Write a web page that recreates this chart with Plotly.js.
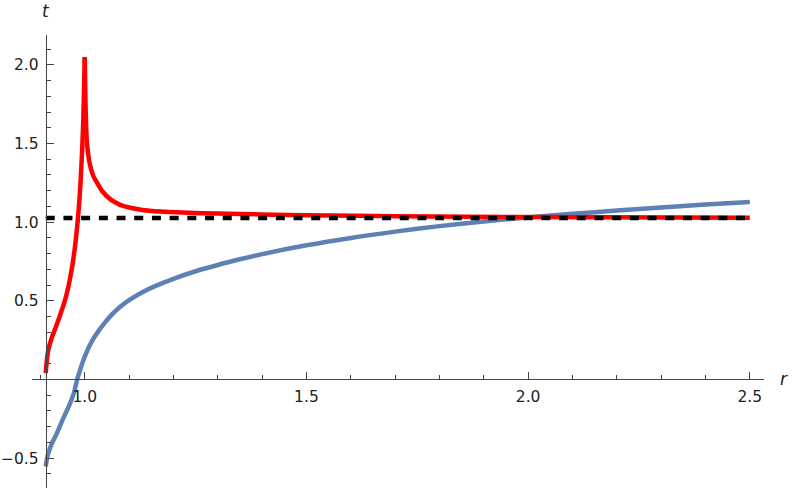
<!DOCTYPE html>
<html>
<head>
<meta charset="utf-8">
<script src="https://cdn.plot.ly/plotly-3.0.1.min.js"></script>
<style>html,body{margin:0;padding:0;background:#fff;}#chart{width:793px;height:491px;}</style>
</head>
<body>
<div id="chart"></div>
<script>
// ---- data ----
// red curve, branch below the spike at r = 1
const redLeftR = [0.912, 0.914, 0.918, 0.925, 0.935, 0.945, 0.955, 0.963, 0.970, 0.976, 0.981, 0.986, 0.990, 0.994, 0.997, 1.000];
const redLeftT = [0.04, 0.11, 0.19, 0.26, 0.335, 0.415, 0.50, 0.59, 0.69, 0.80, 0.92, 1.07, 1.23, 1.45, 1.68, 2.05];
// red curve, branch after the spike
const redRightR = [1.000, 1.002, 1.005, 1.010, 1.015, 1.020, 1.028, 1.040, 1.058, 1.080, 1.100, 1.130, 1.170, 1.220, 1.300, 1.400, 1.500, 1.700, 2.000, 2.500];
const redRightT = [2.05, 1.72, 1.50, 1.39, 1.33, 1.29, 1.25, 1.195, 1.145, 1.11, 1.093, 1.078, 1.068, 1.061, 1.055, 1.049, 1.044, 1.038, 1.033, 1.028];

const blueR = [0.912, 0.915, 0.920, 0.927, 0.935, 0.945, 0.955, 0.965, 0.975, 0.983, 0.990, 1.000, 1.010, 1.020, 1.032, 1.045, 1.062, 1.080, 1.100, 1.130, 1.160, 1.200, 1.250, 1.300, 1.350, 1.400, 1.500, 1.600, 1.700, 1.800, 1.900, 2.000, 2.100, 2.200, 2.300, 2.400, 2.500];
const blueT = [-0.553, -0.50, -0.45, -0.40, -0.355, -0.29, -0.225, -0.165, -0.09, 0.00, 0.065, 0.145, 0.210, 0.262, 0.312, 0.360, 0.415, 0.462, 0.505, 0.555, 0.595, 0.640, 0.688, 0.728, 0.764, 0.797, 0.853, 0.900, 0.940, 0.975, 1.005, 1.030, 1.053, 1.074, 1.094, 1.112, 1.128];

const refR = [0.912, 2.5];
const refT = [1.027, 1.027];

const xTickVals = [1.0, 1.5, 2.0, 2.5];
const xTickText = ["1.0", "1.5", "2.0", "2.5"];
const yTickVals = [-0.5, 0.5, 1.0, 1.5, 2.0];
const yTickText = ["\u22120.5", "0.5", "1.0", "1.5", "2.0"];

const xRange = [0.881, 2.532];
const yRange = [-0.69, 2.19];
const originR = 0.912;

const redLine = {color: '#FF0000', width: 4.5, shape: 'spline', smoothing: 0.8};
const traces = [
  {x: blueR, y: blueT, mode: 'lines', line: {color: '#5E81B5', width: 4.5, shape: 'spline', smoothing: 0.8}, hoverinfo: 'skip'},
  {x: redLeftR, y: redLeftT, mode: 'lines', line: redLine, hoverinfo: 'skip'},
  {x: redRightR, y: redRightT, mode: 'lines', line: redLine, hoverinfo: 'skip'},
  {x: refR, y: refT, mode: 'lines', line: {color: '#000000', width: 4.5, dash: '9px,8.7px'}, hoverinfo: 'skip'}
];

const axisColor = '#444';
const textColor = '#222';
const fontFam = 'DejaVu Sans, sans-serif';
const layout = {
  width: 793, height: 491,
  margin: {l: 32, r: 29, t: 35, b: 3},
  paper_bgcolor: '#fff', plot_bgcolor: '#fff',
  showlegend: false,
  font: {family: fontFam, size: 15.5, color: textColor},
  xaxis: {
    range: xRange, anchor: 'free',
    position: (0 - yRange[0]) / (yRange[1] - yRange[0]),
    showgrid: false, zeroline: false, showline: true, linecolor: axisColor, linewidth: 1,
    tickmode: 'array', tickvals: xTickVals, ticktext: xTickText,
    ticks: 'inside', ticklen: 7, tickcolor: axisColor, tickwidth: 1,
    minor: {dtick: 0.1, tick0: 0, ticks: 'inside', ticklen: 4, tickcolor: axisColor, tickwidth: 1, showgrid: false},
    tickfont: {family: fontFam, size: 15.5, color: textColor},
    ticklabelstandoff: 3
  },
  yaxis: {
    range: yRange, anchor: 'free',
    position: (originR - xRange[0]) / (xRange[1] - xRange[0]),
    showgrid: false, zeroline: false, showline: true, linecolor: axisColor, linewidth: 1,
    tickmode: 'array', tickvals: yTickVals, ticktext: yTickText,
    ticks: 'inside', ticklen: 7, tickcolor: axisColor, tickwidth: 1,
    minor: {dtick: 0.1, tick0: 0, ticks: 'inside', ticklen: 4, tickcolor: axisColor, tickwidth: 1, showgrid: false},
    tickfont: {family: fontFam, size: 15.5, color: textColor},
    ticklabelstandoff: 4
  },
  annotations: [
    {text: '<i>t</i>', xref: 'x', x: originR, yref: 'paper', y: 1, yanchor: 'bottom', xanchor: 'center', yshift: 12, showarrow: false, font: {family: fontFam, size: 17, color: textColor}},
    {text: '<i>r</i>', xref: 'paper', x: 1, xanchor: 'left', xshift: 14, yref: 'y', y: 0, yanchor: 'middle', showarrow: false, font: {family: fontFam, size: 17, color: textColor}}
  ]
};

Plotly.newPlot('chart', traces, layout, {staticPlot: true, displayModeBar: false});
</script>
</body>
</html>
